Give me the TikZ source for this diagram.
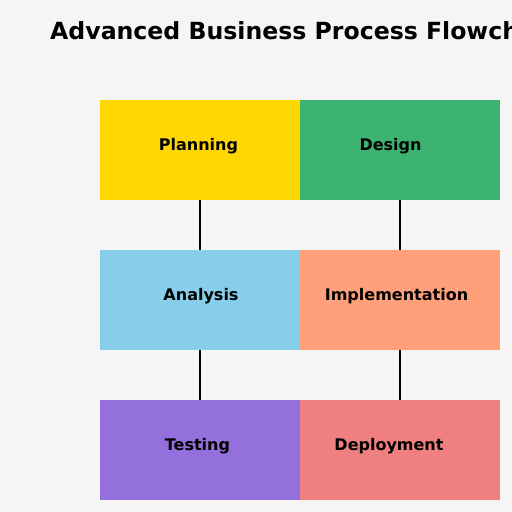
\documentclass[tikz,border=0pt]{standalone}
\usepackage{fontspec}
\setmainfont{DejaVu Sans}
\definecolor{bg}{HTML}{F5F5F5}
\definecolor{plan}{HTML}{FFD700}
\definecolor{design}{HTML}{3CB371}
\definecolor{analysis}{HTML}{87CEEB}
\definecolor{impl}{HTML}{FFA07A}
\definecolor{test}{HTML}{9370DB}
\definecolor{deploy}{HTML}{F08080}
\tikzset{
  stage/.style={minimum width=200pt, minimum height=100pt, inner sep=0pt, outer sep=0pt},
  label/.style={font=\bfseries\fontsize{16}{16}\selectfont, anchor=base, inner sep=0pt}
}
\begin{document}
\begin{tikzpicture}[x=1pt,y=-1pt]
      \clip (0,0) rectangle (512,512);
      \fill[bg] (0,0) rectangle (512,512);
      \node[anchor=base west, inner sep=0pt, font=\bfseries\fontsize{23.6}{24}\selectfont]
        (title) at (50,39) {Advanced Business Process Flowchart};
      \draw
        (200,150) node[stage, fill=plan] (P){}
        (400,150) node[stage, fill=design] (D){}
        (200,300) node[stage, fill=analysis] (A){}
        (400,300) node[stage, fill=impl] (I){}
        (200,450) node[stage, fill=test] (T){}
        (400,450) node[stage, fill=deploy] (Y){};
      \draw
        (198.5,150) node[label] (Pt){Planning}
        (390.5,150) node[label] (Dt){Design}
        (201,300) node[label] (At){Analysis}
        (396.5,300) node[label] (It){Implementation}
        (197.5,450) node[label] (Tt){Testing}
        (389,450) node[label] (Yt){Deployment};
      \begin{scope}[-, line width=1.5pt]
        \draw (P) to (A);
        \draw (A) to (T);
        \draw (D) to (I);
        \draw (I) to (Y);
      \end{scope}
    \end{tikzpicture}
\end{document}
